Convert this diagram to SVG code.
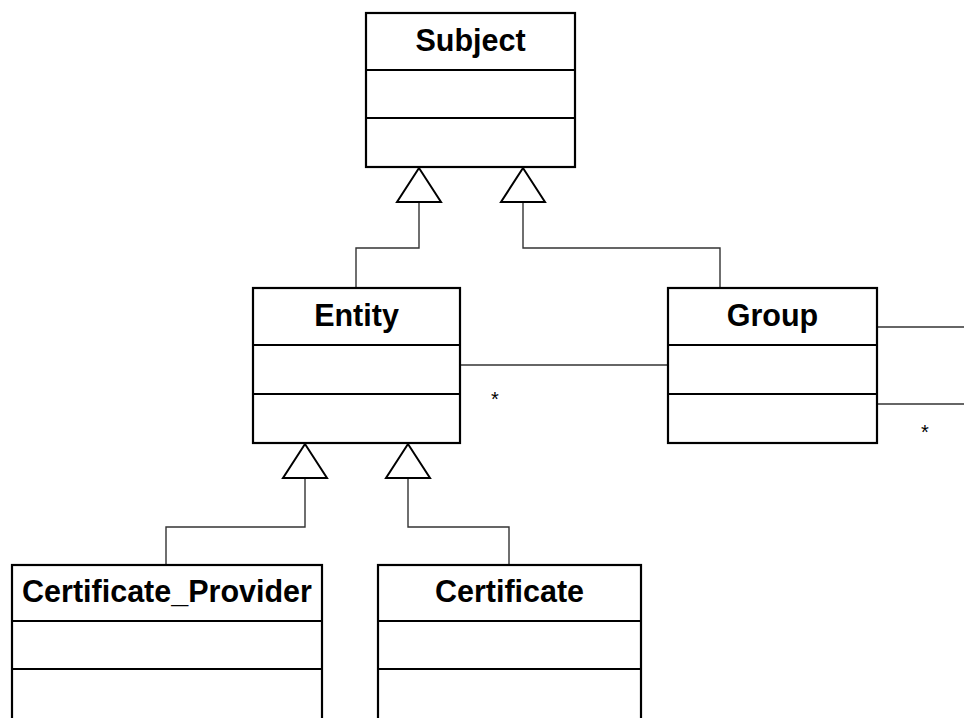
<svg xmlns="http://www.w3.org/2000/svg" width="964" height="718" viewBox="0 0 964 718">
  <style>
    .box { fill: #ffffff; stroke: #000000; stroke-width: 2.2; }
    .div { stroke: #000000; stroke-width: 2; }
    .name { font-family: "Liberation Sans", Arial, sans-serif; font-weight: bold; font-size: 30.5px; fill: #000000; text-anchor: middle; }
    .mult { font-family: "Liberation Sans", Arial, sans-serif; font-size: 20px; fill: #000000; }
    .wire { fill: none; stroke: #333333; stroke-width: 1.4; }
    .gen { fill: #ffffff; stroke: #000000; stroke-width: 2; stroke-linejoin: miter; }
  </style>
  <rect width="964" height="718" fill="#ffffff"/>

  <g id="connectors">
    <!-- generalizations to Subject -->
    <polyline class="wire" points="419,202 419,248 356,248 356,288"/>
    <polyline class="wire" points="523,202 523,248 720,248 720,288"/>
    <polygon class="gen" points="419,168 397,202 441,202"/>
    <polygon class="gen" points="523,168 501,202 545,202"/>
    <!-- generalizations to Entity -->
    <polyline class="wire" points="305,478 305,527 166,527 166,565"/>
    <polyline class="wire" points="408,478 408,527 509,527 509,565"/>
    <polygon class="gen" points="305,444 283,478 327,478"/>
    <polygon class="gen" points="408,444 386,478 430,478"/>
    <!-- associations -->
    <line class="wire" x1="461" y1="365" x2="668" y2="365"/>
    <text class="mult" x="491" y="406">*</text>
    <line class="wire" x1="877" y1="327" x2="964" y2="327"/>
    <line class="wire" x1="877" y1="404" x2="964" y2="404"/>
    <text class="mult" x="921" y="439">*</text>
  </g>

  <g id="subject">
    <rect class="box" x="366" y="13" width="209" height="154"/>
    <line class="div" x1="366" y1="70" x2="575" y2="70"/>
    <line class="div" x1="366" y1="118" x2="575" y2="118"/>
    <text class="name" x="470.5" y="51">Subject</text>
  </g>

  <g id="entity">
    <rect class="box" x="253" y="288" width="207" height="155"/>
    <line class="div" x1="253" y1="345" x2="460" y2="345"/>
    <line class="div" x1="253" y1="394" x2="460" y2="394"/>
    <text class="name" x="356.5" y="326">Entity</text>
  </g>

  <g id="group">
    <rect class="box" x="668" y="288" width="209" height="155"/>
    <line class="div" x1="668" y1="345" x2="877" y2="345"/>
    <line class="div" x1="668" y1="394" x2="877" y2="394"/>
    <text class="name" x="772.5" y="326">Group</text>
  </g>

  <g id="certificate-provider">
    <rect class="box" x="12" y="565" width="310" height="160"/>
    <line class="div" x1="12" y1="621" x2="322" y2="621"/>
    <line class="div" x1="12" y1="669" x2="322" y2="669"/>
    <text class="name" x="167" y="602">Certificate_Provider</text>
  </g>

  <g id="certificate">
    <rect class="box" x="378" y="565" width="263" height="160"/>
    <line class="div" x1="378" y1="621" x2="641" y2="621"/>
    <line class="div" x1="378" y1="669" x2="641" y2="669"/>
    <text class="name" x="509.5" y="602">Certificate</text>
  </g>
</svg>
